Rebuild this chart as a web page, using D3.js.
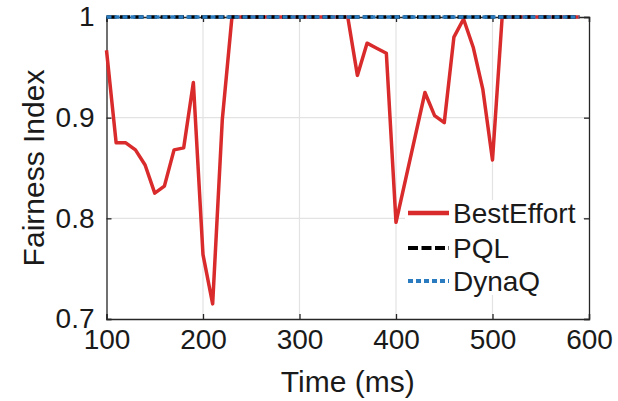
<!DOCTYPE html>
<html><head><meta charset="utf-8">
<script src="https://cdn.jsdelivr.net/npm/d3@7"></script>
<style>body{margin:0;background:#fff}svg{display:block;font-family:"Liberation Sans",Arial,sans-serif}</style>
</head><body>
<svg id="c" width="618" height="401"></svg>
<script>
const time = [100,110,120,130,140,150,160,170,180,190,200,210,220,230,240,250,260,270,280,290,300,310,320,330,340,350,360,370,380,390,400,410,420,430,440,450,460,470,480,490,500,510,520,530,540,550,560,570,580,590];
const bestEffort = [0.967,0.875,0.875,0.868,0.853,0.825,0.832,0.868,0.870,0.935,0.764,0.715,0.898,1,1,1,1,1,1,1,1,1,1,1,1,1,0.942,0.974,0.969,0.964,0.796,0.839,0.882,0.925,0.902,0.895,0.98,0.998,0.97,0.928,0.858,1,1,1,1,1,1,1,1,1];
const pql = [1,1,1,1,1,1,1,1,1,1,1,1,1,1,1,1,1,1,1,1,1,1,1,1,1,1,1,1,1,1,1,1,1,1,1,1,1,1,1,1,1,1,1,1,1,1,1,1,1,1];
const dynaQ = [1,1,1,1,1,1,1,1,1,1,1,1,1,1,1,1,1,1,1,1,1,1,1,1,1,1,1,1,1,1,1,1,1,1,1,1,1,1,1,1,1,1,1,1,1,1,1,1,1,1];
const xTicks = [100,200,300,400,500,600];
const yTicks = [0.7,0.8,0.9,1];
const yTickLabels = ["0.7","0.8","0.9","1"];
const seriesNames = ["BestEffort","PQL","DynaQ"];

const svg = d3.select("#c");
const L = 106.5, R = 589, T = 17, B = 319;
const x = d3.scaleLinear().domain([100,600]).range([L,R]);
const y = d3.scaleLinear().domain([0.7,1]).range([B,T]);
const axisCol = "#262626";

// grid
const g = svg.append("g");
g.selectAll(".gx").data(xTicks.slice(1,-1)).join("line")
  .attr("x1",d=>x(d)).attr("x2",d=>x(d)).attr("y1",T).attr("y2",B)
  .attr("stroke","#e3e3e3").attr("stroke-width",1.2);
g.selectAll(".gy").data(yTicks.slice(1,-1)).join("line")
  .attr("x1",L).attr("x2",R).attr("y1",d=>y(d)).attr("y2",d=>y(d))
  .attr("stroke","#e3e3e3").attr("stroke-width",1.2);

// axes
const fs = 28;
const xa = svg.append("g").attr("transform",`translate(0,${B})`)
  .call(d3.axisBottom(x).tickValues(xTicks).tickSize(-5).tickPadding(10).tickFormat(d3.format("d")));
const ya = svg.append("g").attr("transform",`translate(${L},0)`)
  .call(d3.axisLeft(y).tickValues(yTicks).tickSize(-5).tickPadding(12).tickFormat((d,i)=>yTickLabels[i]));
svg.append("g").attr("transform",`translate(0,${T})`)
  .call(d3.axisTop(x).tickValues(xTicks).tickSize(-5).tickFormat(""));
svg.append("g").attr("transform",`translate(${R},0)`)
  .call(d3.axisRight(y).tickValues(yTicks).tickSize(-5).tickFormat(""));
svg.selectAll(".domain").attr("stroke",axisCol).attr("stroke-width",1.3);
svg.selectAll(".tick line").attr("stroke",axisCol).attr("stroke-width",1.3);
svg.selectAll(".tick text").attr("fill","#1a1a1a").style("font-size",fs+"px").style("font-family",'"Liberation Sans",Arial,sans-serif');
xa.selectAll(".tick text").attr("dy","0.71em");

// lines
const line = vals => d3.line().x((d,i)=>x(time[i])).y(d=>y(d))(vals);
svg.append("path").attr("d",line(bestEffort)).attr("fill","none")
  .attr("stroke","#d92b2b").attr("stroke-width",3.5).attr("stroke-linejoin","round");
svg.append("path").attr("d",line(pql)).attr("fill","none")
  .attr("stroke","#000").attr("stroke-width",3.5).attr("stroke-dasharray","10,3.5");
svg.append("path").attr("d",line(dynaQ)).attr("fill","none")
  .attr("stroke","#2a7bbf").attr("stroke-width",3.5).attr("stroke-dasharray","5,3");

// axis labels
svg.append("text").attr("x",(L+R)/2).attr("y",392).attr("text-anchor","middle")
  .style("font-size","30px").attr("fill","#1a1a1a").text("Time (ms)");
svg.append("text").attr("transform",`translate(44,${(T+B)/2}) rotate(-90)`).attr("text-anchor","middle")
  .style("font-size","30px").attr("fill","#1a1a1a").text("Fairness Index");

// legend
const lg = svg.append("g");
lg.append("rect").attr("x",405).attr("y",200).attr("width",178).attr("height",95).attr("fill","#fff");
const lcols = ["#d92b2b","#000","#2a7bbf"], ldash = [null,"10,3.5","5,3"], ly = [213,248,281];
seriesNames.forEach((n,i)=>{
  lg.append("line").attr("x1",408).attr("x2",449).attr("y1",ly[i]).attr("y2",ly[i])
    .attr("stroke",lcols[i]).attr("stroke-width",i===0?4.5:4).attr("stroke-dasharray",ldash[i]);
  lg.append("text").attr("x",453).attr("y",ly[i]).attr("dy","0.36em")
    .style("font-size","28px").attr("fill","#1a1a1a").text(n);
});
</script>
</body></html>
